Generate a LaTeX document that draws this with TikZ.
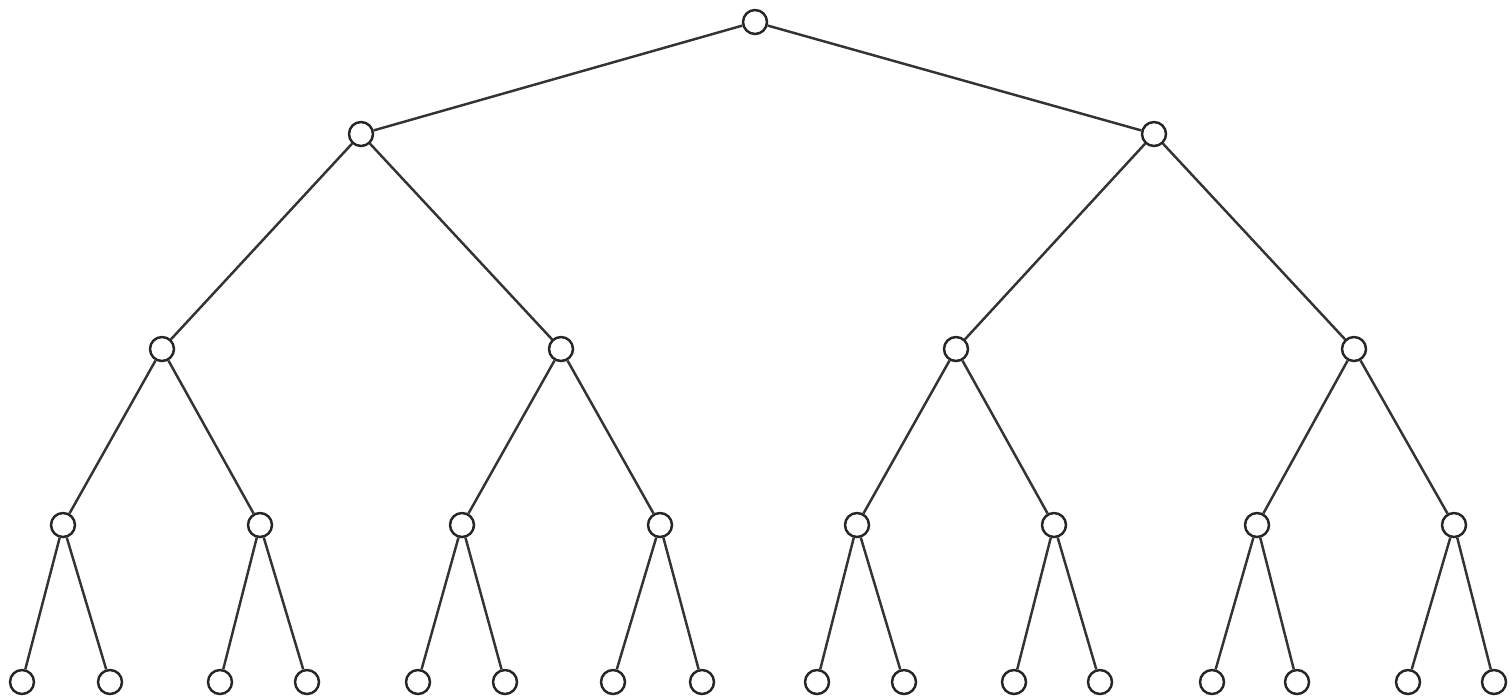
\documentclass[tikz,border=0pt]{standalone}
\usepackage{tikz}
\usetikzlibrary{positioning}
\tikzset{
  treeNode/.style={circle, draw=black!85, fill=white, line width=1.4pt,
                   minimum size=0.48cm, inner sep=0pt},
  treeEdge/.style={draw=black!80, line width=1.4pt},
}
\begin{document}
\begin{tikzpicture}[x=0.02cm, y=-0.02cm]
    \useasboundingbox (0,0) rectangle (1512,697);
    % root and first levels
    \node[treeNode] (n) at (755,22) {};
    \node[treeNode] (n0) at (361,134) {};
    \node[treeNode] (n1) at (1154,134) {};
    \node[treeNode] (n00) at (162,349) {};
    \node[treeNode] (n01) at (561,349) {};
    \node[treeNode] (n10) at (956,349) {};
    \node[treeNode] (n11) at (1354,349) {};
    % third level
    \node[treeNode] (n000) at (63,525) {};
    \node[treeNode] (n001) at (260,525) {};
    \node[treeNode] (n010) at (462,525) {};
    \node[treeNode] (n011) at (660,525) {};
    \node[treeNode] (n100) at (857,525) {};
    \node[treeNode] (n101) at (1054,525) {};
    \node[treeNode] (n110) at (1257,525) {};
    \node[treeNode] (n111) at (1454,525) {};
    % leaves
    \foreach \p/\xa/\xb in {000/22/110, 001/220/307, 010/418/505, 011/613/702,
                            100/817/904, 101/1014/1100, 110/1212/1297, 111/1408/1494} {
      \node[treeNode] (n\p0) at (\xa,682) {};
      \node[treeNode] (n\p1) at (\xb,682) {};
      \draw[treeEdge] (n\p) -- (n\p0);
      \draw[treeEdge] (n\p) -- (n\p1);
    }
    \draw[treeEdge] (n) -- (n0); \draw[treeEdge] (n) -- (n1);
    \foreach \p in {0,1,00,01,10,11} {
      \draw[treeEdge] (n\p) -- (n\p0);
      \draw[treeEdge] (n\p) -- (n\p1);
    }
\end{tikzpicture}
\end{document}
